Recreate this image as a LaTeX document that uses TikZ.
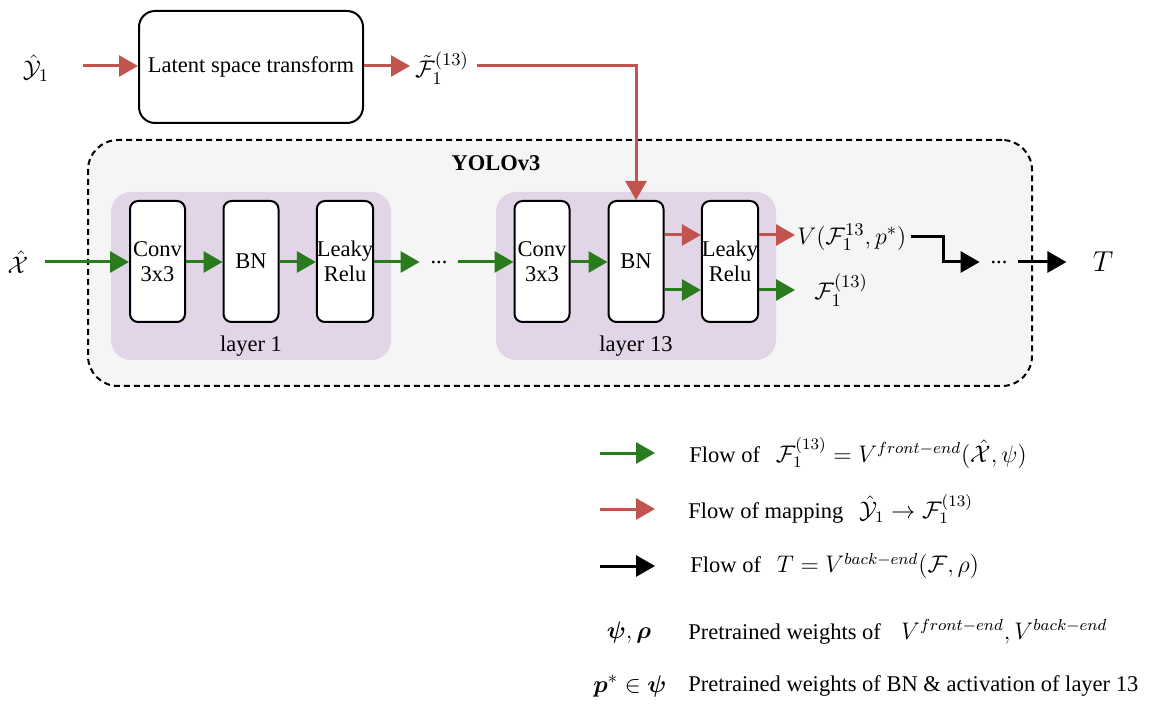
\documentclass[tikz,border=0pt]{standalone}
\usepackage[no-math]{fontspec}
\setmainfont{Liberation Serif}
\usepackage{bm}
\usetikzlibrary{arrows.meta,calc}
\definecolor{gflow}{RGB}{42,122,30}
\definecolor{rflow}{RGB}{194,84,80}
\definecolor{purplefill}{HTML}{E1D5E7}
\definecolor{grayfill}{HTML}{F5F5F5}
\newcommand\mm[1]{{\fontsize{12.3}{14}\selectfont$#1$}}
\newcommand\lm[1]{{\fontsize{11.7}{14}\selectfont$#1$}}
\tikzset{
  every node/.style={font=\fontsize{11.25}{12.5}\selectfont},
  blk/.style={draw=black, line width=1pt, rounded corners=4pt, fill=white,
    minimum width=27.5pt, minimum height=60.5pt, align=center, inner sep=0pt},
  layerbox/.style={fill=purplefill, rounded corners=10pt, minimum width=140pt,
    minimum height=84pt, inner sep=0pt},
  flow/.style={line width=1.5pt, -{Triangle[length=9.5pt,width=10.5pt]}},
  garrow/.style={flow, draw=gflow, color=gflow},
  rarrow/.style={flow, draw=rflow, color=rflow},
  barrow/.style={flow, draw=black},
  dotsnode/.style={minimum width=19pt, inner sep=0pt},
  legtext/.style={anchor=west, inner sep=0pt},
}
\begin{document}
\begin{tikzpicture}[x=0.5pt,y=-0.5pt]
\useasboundingbox (0,0) rectangle (1154,710);

% YOLO container
\node[draw=black, line width=1pt, dash pattern=on 3pt off 2pt, fill=grayfill,
  rounded corners=15pt, minimum width=472pt, minimum height=123pt, inner sep=0pt]
  (yolo) at (560,263) {};
\node (yolotitle) at (496,163) {\bfseries YOLOv3};

% layer boxes
\node[layerbox] (layer1) at (251,276) {};
\node[layerbox] (layer13) at (636,276) {};
\node (l1lab) at (251,346) {layer 1};
\node (l13lab) at (636,346) {layer 13};

% blocks layer 1
\node[blk] (conv1) at (157.5,261.5) {Conv\\3x3};
\node[blk] (bn1) at (251,261.5) {BN};
\node[blk] (leaky1) at (345,261.5) {Leaky\\Relu};
% blocks layer 13
\node[blk] (conv13) at (542,261.5) {Conv\\3x3};
\node[blk] (bn13) at (636,261.5) {BN};
\node[blk] (leaky13) at (730,261.5) {Leaky\\Relu};

% latent transform
\node[draw=black, line width=1pt, rounded corners=8pt, fill=white,
  minimum width=112pt, minimum height=56pt, inner sep=0pt] (lst) at (251,67) {Latent space transform};
\node (yin) at (36,68) {\mm{\hat{\mathcal{Y}}_1}};
\coordinate (yinend) at (83,66);
\node (ftil) at (442,68) {\mm{\tilde{\mathcal{F}}_1^{(13)}}};
\coordinate (ftilout) at (477,66);
\coordinate (lstout) at (410,66);

\draw[rarrow] (yinend) -- (lst.west |- yinend);
\draw[rarrow] (lst.east |- yinend) -- (lstout);
\draw[rarrow] (ftilout) -- (bn13.north |- ftilout) -- (bn13.north);

% input
\node (xin) at (18,262) {\mm{\hat{\mathcal{X}}}};
\coordinate (xinend) at (45,262);
\draw[garrow] (xinend) -- (conv1.west |- xinend);
\draw[garrow] (conv1.east |- xinend) -- (bn1.west |- xinend);
\draw[garrow] (bn1.east |- xinend) -- (leaky1.west |- xinend);
\node[dotsnode] (d1) at (439,262) {...};
\draw[garrow] (leaky1.east |- xinend) -- (d1.west);
\draw[garrow] (d1.east) -- (conv13.west |- xinend);
\draw[garrow] (conv13.east |- xinend) -- (bn13.west |- xinend);

% layer 13 outputs
\coordinate (ry) at (0,235);
\coordinate (gy) at (0,290);
\draw[rarrow] (bn13.east |- ry) -- (leaky13.west |- ry);
\draw[garrow] (bn13.east |- gy) -- (leaky13.west |- gy);
\node[anchor=west, inner sep=1pt] (vlab) at (795,237) {\mm{V(\mathcal{F}_1^{13},p^{*})}};
\node[anchor=west, inner sep=1pt] (flab) at (812,290) {\mm{\mathcal{F}_1^{(13)}}};
\coordinate (vend) at (795,235);
\coordinate (fend) at (795,290);
\draw[rarrow] (leaky13.east |- ry) -- (vend);
\draw[garrow] (leaky13.east |- gy) -- (fend);

% black path
\node[dotsnode] (d2) at (999,262) {...};
\coordinate (corner) at (943,238);
\draw[line width=1.5pt, -{Triangle[length=9.5pt,width=10.5pt]}] ($(vlab.east)+(2,0)$) -- (corner |- vlab.east) |- (d2.west);
\node[inner xsep=13pt, font=\fontsize{14}{16}\selectfont] (T) at (1103,262) {$T$};
\draw[barrow] (d2.east) -- (T.west);

% legend
\coordinate (lg1a) at (600,453); \coordinate (lg1b) at (655,453);
\coordinate (lg2a) at (600,509); \coordinate (lg2b) at (655,509);
\coordinate (lg3a) at (600,566); \coordinate (lg3b) at (655,566);
\draw[garrow] (lg1a) -- (lg1b);
\draw[rarrow] (lg2a) -- (lg2b);
\draw[barrow] (lg3a) -- (lg3b);
\node[legtext] (leg1) at (689,453) {Flow of\hspace{0.7em}\lm{\mathcal{F}_1^{(13)} = V^{front-end}(\hat{\mathcal{X}},\psi)}};
\node[legtext] (leg2) at (688,509) {Flow of mapping\hspace{0.7em}\lm{\hat{\mathcal{Y}}_1 \rightarrow \mathcal{F}_1^{(13)}}};
\node[legtext] (leg3) at (690,566) {Flow of\hspace{0.7em}\lm{T = V^{back-end}(\mathcal{F},\rho)}};
\node (psirho) at (629,632) {{\fontsize{13}{15}\selectfont$\bm{\psi},\bm{\rho}$}};
\node[legtext] (leg4) at (688,632) {Pretrained weights of\hspace{0.9em}\lm{V^{front-end}, V^{back-end}}};
\node (pstar) at (630,686) {{\fontsize{13}{15}\selectfont$\bm{p}^{*}\in\bm{\psi}$}};
\node[legtext] (leg5) at (688,686) {Pretrained weights of BN \& activation of layer 13};
\end{tikzpicture}
\end{document}
